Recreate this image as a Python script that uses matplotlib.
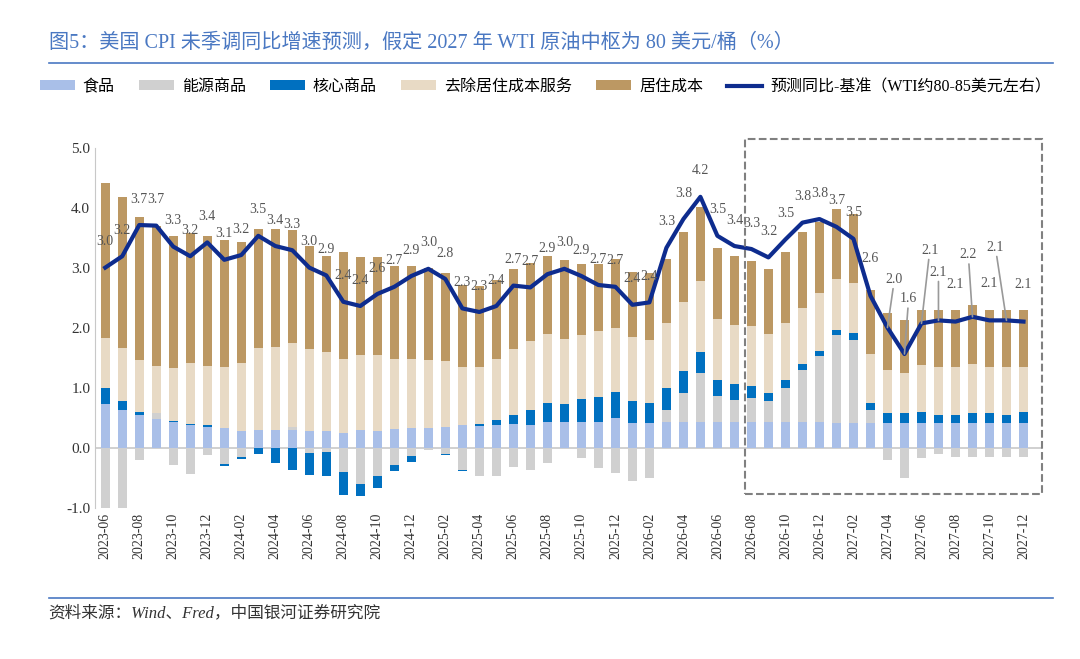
import numpy as np
import matplotlib.pyplot as plt
from matplotlib.patches import Rectangle

# Dados (estimados do gráfico)
MESES = [f"{a}-{m:02d}" for a in range(2023, 2028) for m in range(1, 13)][5:]

ALIMENTOS = [0.73, 0.64, 0.56, 0.49, 0.44, 0.39, 0.36, 0.33, 0.29, 0.30, 0.30, 0.30, 0.29, 0.29, 0.26, 0.30, 0.29, 0.32, 0.34,
             0.34, 0.36, 0.39, 0.37, 0.39, 0.41, 0.39, 0.44, 0.43, 0.43, 0.44, 0.51, 0.42, 0.42, 0.43, 0.43, 0.43, 0.44, 0.43,
             0.43, 0.43, 0.43, 0.43, 0.43, 0.42, 0.42, 0.42, 0.42, 0.42, 0.42, 0.42, 0.42, 0.42, 0.42, 0.42, 0.42]
ENERGIA = [-1.02, -1.0, -0.19, 0.09, -0.28, -0.43, -0.11, -0.26, -0.15, 0.0, 0.0, 0.06, -0.08, -0.07, -0.40, -0.60, -0.47, -0.28, -0.13,
           -0.03, -0.10, -0.36, -0.47, -0.47, -0.31, -0.36, -0.24, 0.0, -0.16, -0.33, -0.42, -0.55, -0.50, 0.21, 0.49, 0.82, 0.43, 0.37,
           0.40, 0.36, 0.58, 0.87, 1.11, 1.46, 1.38, 0.22, -0.20, -0.50, -0.16, -0.10, -0.14, -0.14, -0.14, -0.14, -0.14]
NUCLEO = [0.27, 0.15, 0.04, 0.0, 0.01, 0.01, 0.03, -0.03, -0.03, -0.10, -0.24, -0.36, -0.37, -0.39, -0.38, -0.20, -0.20, -0.10, -0.10,
          0.0, -0.02, -0.02, 0.04, 0.08, 0.15, 0.24, 0.31, 0.31, 0.39, 0.42, 0.42, 0.37, 0.33, 0.37, 0.37, 0.36, 0.27, 0.27,
          0.21, 0.13, 0.13, 0.10, 0.08, 0.09, 0.12, 0.11, 0.16, 0.16, 0.18, 0.14, 0.14, 0.17, 0.17, 0.14, 0.18]
SERVICOS = [0.84, 0.88, 0.87, 0.79, 0.88, 1.02, 0.98, 1.02, 1.13, 1.37, 1.39, 1.40, 1.36, 1.31, 1.23, 1.25, 1.26, 1.16, 1.15,
            1.13, 1.10, 0.96, 0.94, 1.01, 1.10, 1.16, 1.16, 1.08, 1.06, 1.09, 1.08, 1.07, 1.05, 1.07, 1.14, 1.18, 1.01, 0.99,
            1.00, 0.99, 0.94, 0.93, 0.96, 0.85, 0.84, 0.82, 0.73, 0.67, 0.78, 0.80, 0.80, 0.82, 0.77, 0.80, 0.76]
MORADIA = [2.58, 2.52, 2.38, 2.34, 2.21, 2.17, 2.17, 2.12, 2.02, 1.99, 1.96, 1.88, 1.72, 1.60, 1.78, 1.64, 1.64, 1.56, 1.55,
           1.54, 1.46, 1.37, 1.36, 1.32, 1.32, 1.29, 1.29, 1.31, 1.19, 1.12, 1.15, 1.08, 1.12, 1.07, 1.18, 1.23, 1.19, 1.15,
           1.08, 1.07, 1.19, 1.27, 1.19, 1.17, 1.14, 1.07, 0.94, 0.88, 0.93, 0.95, 0.95, 0.97, 0.94, 0.95, 0.94]
PREVISAO = [3.01, 3.20, 3.72, 3.71, 3.36, 3.20, 3.43, 3.14, 3.22, 3.54, 3.37, 3.30, 3.01, 2.88, 2.44, 2.37, 2.57, 2.69, 2.87,
            2.99, 2.82, 2.33, 2.27, 2.37, 2.71, 2.68, 2.90, 2.99, 2.87, 2.72, 2.69, 2.39, 2.43, 3.34, 3.82, 4.19, 3.54, 3.37,
            3.32, 3.18, 3.48, 3.76, 3.82, 3.69, 3.49, 2.54, 2.01, 1.57, 2.08, 2.13, 2.11, 2.19, 2.13, 2.13, 2.11]
ROTULOS = [3.0, 3.2, 3.7, 3.7, 3.3, 3.2, 3.4, 3.1, 3.2, 3.5, 3.4, 3.3, 3.0, 2.9, 2.4, 2.4, 2.6, 2.7, 2.9,
           3.0, 2.8, 2.3, 2.3, 2.4, 2.7, 2.7, 2.9, 3.0, 2.9, 2.7, 2.7, 2.4, 2.4, 3.3, 3.8, 4.2, 3.5, 3.4,
           3.3, 3.2, 3.5, 3.8, 3.8, 3.7, 3.5, 2.6, 2.0, 1.6, 2.1, 2.1, 2.1, 2.2, 2.1, 2.1, 2.1]

CORES = ['#A9BFE8', '#D0D0D0', '#0070C0', '#E8DAC5', '#BC9863']
NOMES = ['食品', '能源商品', '核心商品', '去除居住成本服务', '居住成本']
COR_LINHA = '#0E2C8E'

plt.rcParams['font.family'] = ['Liberation Serif', 'Noto Sans CJK SC']


def gerar_grafico():
    fig = plt.figure(figsize=(10.8, 6.59), dpi=100)
    ax = fig.add_axes([0.088, 0.229, 0.877, 0.546])
    x = np.arange(len(MESES))

    pos = np.zeros(len(x))
    neg = np.zeros(len(x))
    for serie, cor, nome in zip([ALIMENTOS, ENERGIA, NUCLEO, SERVICOS, MORADIA], CORES, NOMES):
        v = np.array(serie)
        base = np.where(v >= 0, pos, neg)
        ax.bar(x, v, bottom=base, width=0.55, color=cor, label=nome, zorder=2)
        pos = pos + np.where(v >= 0, v, 0)
        neg = neg + np.where(v < 0, v, 0)

    ax.plot(x, PREVISAO, color=COR_LINHA, linewidth=3, zorder=3, label='预测同比-基准（WTI约80-85美元左右）')

    # rotulos (os ultimos com linha guia)
    guias = {46: (5, 30), 47: (3, 35), 48: (6, 48), 49: (0, 30), 51: (-3, 40), 53: (-8, 48)}
    for i, (v, r) in enumerate(zip(PREVISAO, ROTULOS)):
        if i in guias:
            dx, dy = guias[i]
            ax.annotate(f"{r:.1f}", (i, v), xytext=(dx, dy), textcoords='offset points', ha='center', va='bottom',
                        fontsize=10, color='#555555',
                        arrowprops=dict(arrowstyle='-', color='#999999', lw=1.2, shrinkA=0, shrinkB=0))
        else:
            dy = 14 if i < 45 else 22
            ax.annotate(f"{r:.1f}", (i, v), xytext=(0, dy), textcoords='offset points', ha='center', va='bottom',
                        fontsize=10, color='#555555')

    ax.add_patch(Rectangle((37.6, -0.77), 17.5, 5.92, fill=False, linestyle='--', edgecolor='#808080',
                           linewidth=1.5, clip_on=False, zorder=4))

    ax.axhline(0, color='#C8C8C8', linewidth=1.2, zorder=1)
    ax.set_ylim(-1, 5)
    ax.set_xlim(-0.6, 55.1)
    ax.set_yticks(np.arange(-1, 5.1, 1))
    ax.set_yticklabels([f"{t:.1f}" for t in np.arange(-1, 5.1, 1)], fontsize=11, color='#333333')
    ax.set_xticks(x[::2])
    ax.set_xticklabels(MESES[::2], rotation=90, fontsize=10, color='#333333')
    ax.tick_params(length=0)
    for lado in ['top', 'right', 'bottom']:
        ax.spines[lado].set_visible(False)
    ax.spines['left'].set_color('#C8C8C8')

    fig.text(0.045, 0.935, '图5：美国 CPI 未季调同比增速预测，假定 2027 年 WTI 原油中枢为 80 美元/桶（%）',
             fontsize=14.5, color='#4A78C2', va='center')
    fig.add_artist(plt.Line2D([0.045, 0.975], [0.905, 0.905], color='#4A78C2', linewidth=1.2))
    fig.add_artist(plt.Line2D([0.045, 0.975], [0.093, 0.093], color='#4A78C2', linewidth=1.2))
    fig.text(0.045, 0.07, '资料来源：Wind、Fred，中国银河证券研究院', fontsize=12, style='italic',
             color='#333333', va='center')

    handles, labels = ax.get_legend_handles_labels()
    ordem = [1, 2, 3, 4, 5, 0]
    fig.legend([handles[i] for i in ordem], [labels[i] for i in ordem], loc='center',
               bbox_to_anchor=(0.505, 0.868), ncol=6, frameon=False, fontsize=11.5,
               handlelength=2.2, handleheight=0.6, columnspacing=1.5, handletextpad=0.5)

    fig.savefig("out.png", dpi=100)


if __name__ == "__main__":
    gerar_grafico()
